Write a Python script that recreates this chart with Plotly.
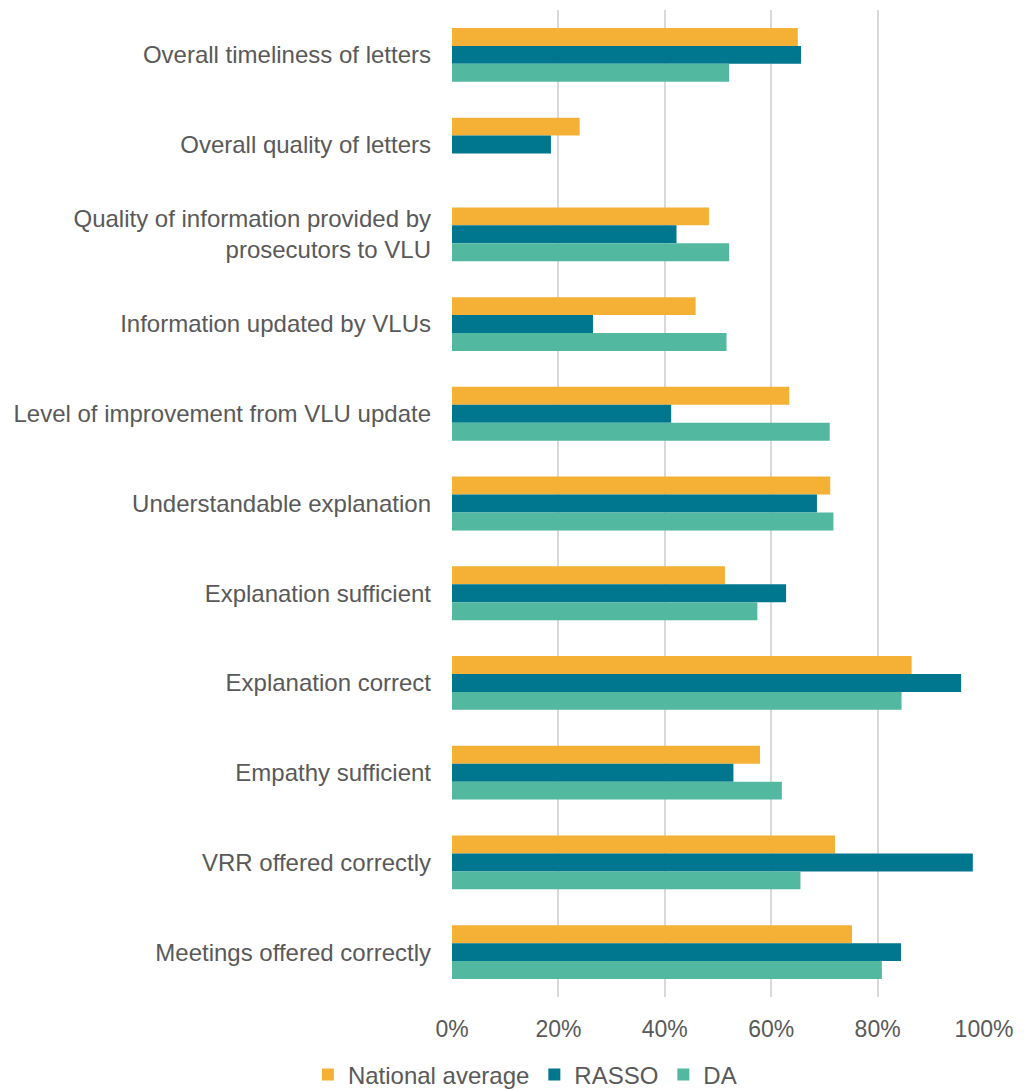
import plotly.graph_objects as go

categorias = [
    "Overall timeliness of letters",
    "Overall quality of letters",
    "Quality of information provided by<br>prosecutors to VLU",
    "Information updated by VLUs",
    "Level of improvement from VLU update",
    "Understandable explanation",
    "Explanation sufficient",
    "Explanation correct",
    "Empathy sufficient",
    "VRR offered correctly",
    "Meetings offered correctly",
]

national = [0.650, 0.240, 0.483, 0.458, 0.634, 0.711, 0.513, 0.864, 0.579, 0.720, 0.752]
rasso = [0.656, 0.186, 0.422, 0.265, 0.412, 0.686, 0.628, 0.957, 0.529, 0.979, 0.844]
da = [0.521, None, 0.521, 0.516, 0.710, 0.717, 0.574, 0.845, 0.620, 0.655, 0.808]

series = [
    ("National average", national, "#F4B135"),
    ("RASSO", rasso, "#00778F"),
    ("DA", da, "#52B8A0"),
]

fig = go.Figure()
for nombre, valores, color in series:
    fig.add_trace(go.Bar(
        y=categorias,
        x=valores,
        name=nombre,
        orientation="h",
        marker=dict(color=color, line=dict(width=0)),
    ))

# la pagina tiene 8px de margen en el body, se compensa aqui
fig.update_layout(
    width=1024,
    height=1090,
    barmode="group",
    bargap=0.4,
    bargroupgap=0,
    plot_bgcolor="white",
    paper_bgcolor="white",
    font=dict(family="Liberation Sans, Arial, sans-serif", size=24, color="#595959"),
    margin=dict(l=444, r=48, t=2, b=101, autoexpand=False),
    legend=dict(
        orientation="h",
        x=0.137,
        xanchor="center",
        y=-0.079,
        yanchor="middle",
        font=dict(size=24, color="#595959"),
        itemwidth=30,
        tracegroupgap=0,
    ),
    xaxis=dict(
        range=[0, 1],
        tickvals=[0, 0.2, 0.4, 0.6, 0.8, 1.0],
        tickformat=".0%",
        tickfont=dict(size=23),
        showgrid=True,
        gridcolor="#D9D9D9",
        gridwidth=1.5,
        zeroline=False,
        showline=False,
        ticks="",
        ticklabelstandoff=16,
    ),
    yaxis=dict(
        autorange="reversed",
        showgrid=False,
        showline=False,
        ticks="",
        ticklabelstandoff=20,
    ),
)

fig.write_html("out.html")
